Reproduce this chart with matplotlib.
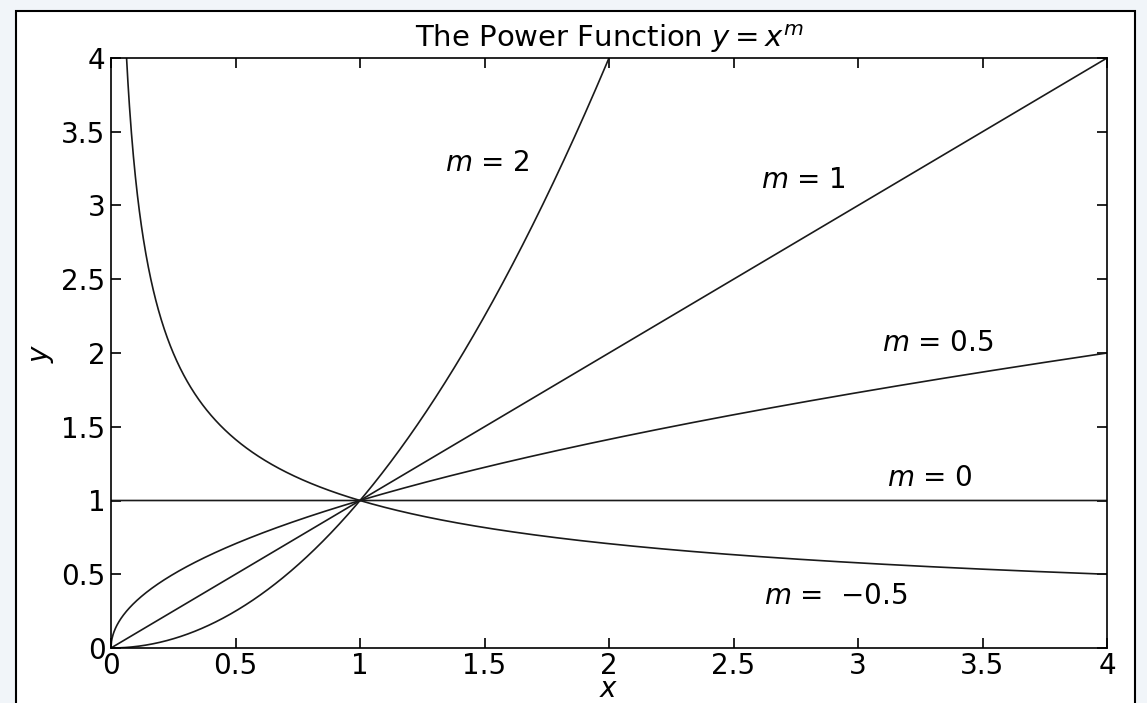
import numpy as np
import matplotlib
matplotlib.use("Agg")
import matplotlib.pyplot as plt
from matplotlib.patches import Rectangle

plt.rcParams['font.family'] = ['DejaVu Sans']
plt.rcParams['mathtext.fontset'] = 'dejavusans'

# exponents and label placement (data coords)
exponents = [2, 1, 0.5, 0, -0.5]
label_text = ["2", "1", "0.5", "0", " \u22120.5"]
label_x = [1.51, 2.78, 3.32, 3.29, 2.91]
label_y = [3.29, 3.17, 2.07, 1.15, 0.35]
x_ticks = [0, 0.5, 1, 1.5, 2, 2.5, 3, 3.5, 4]
y_ticks = [0, 0.5, 1, 1.5, 2, 2.5, 3, 3.5, 4]

fig = plt.figure(figsize=(11.47, 7.03), dpi=100, facecolor='#f1f5f9')
fig.patches.append(Rectangle((16 / 1147, -0.05), (1135 - 16) / 1147, 1.05 - 11 / 703,
                             transform=fig.transFigure, facecolor='white',
                             edgecolor='black', linewidth=1.5, zorder=-1))

ax = fig.add_axes([111 / 1147, 1 - 648 / 703, (1107 - 111) / 1147, (648 - 58) / 703])
ax.set_zorder(1)

x = np.linspace(0, 4, 2000)
for m in exponents:
    if m < 0:
        xs = x[x > 0.05]
    else:
        xs = x
    ax.plot(xs, xs ** m, color='#1a1a1a', lw=1.2)

for t, lx, ly in zip(label_text, label_x, label_y):
    ax.text(lx, ly, "$m$ = " + t, fontsize=20, ha='center', va='center')

ax.set_xlim(0, 4)
ax.set_ylim(0, 4)
ax.set_xticks(x_ticks)
ax.set_yticks(y_ticks)
ax.set_xticklabels([f"{v:g}" for v in x_ticks])
ax.set_yticklabels([f"{v:g}" for v in y_ticks])
ax.tick_params(direction='in', length=7, width=1.2, top=True, right=True,
               labelsize=20, pad=4)
ax.tick_params(axis='x', pad=3)
for s in ax.spines.values():
    s.set_linewidth(1.2)

ax.set_title("The Power Function $y = x^m$", fontsize=21, pad=8)
ax.set_xlabel("$x$", fontsize=20, labelpad=-4)
ax.set_ylabel("$y$", fontsize=20, labelpad=4)

fig.savefig("out.png", dpi=100, facecolor=fig.get_facecolor())
